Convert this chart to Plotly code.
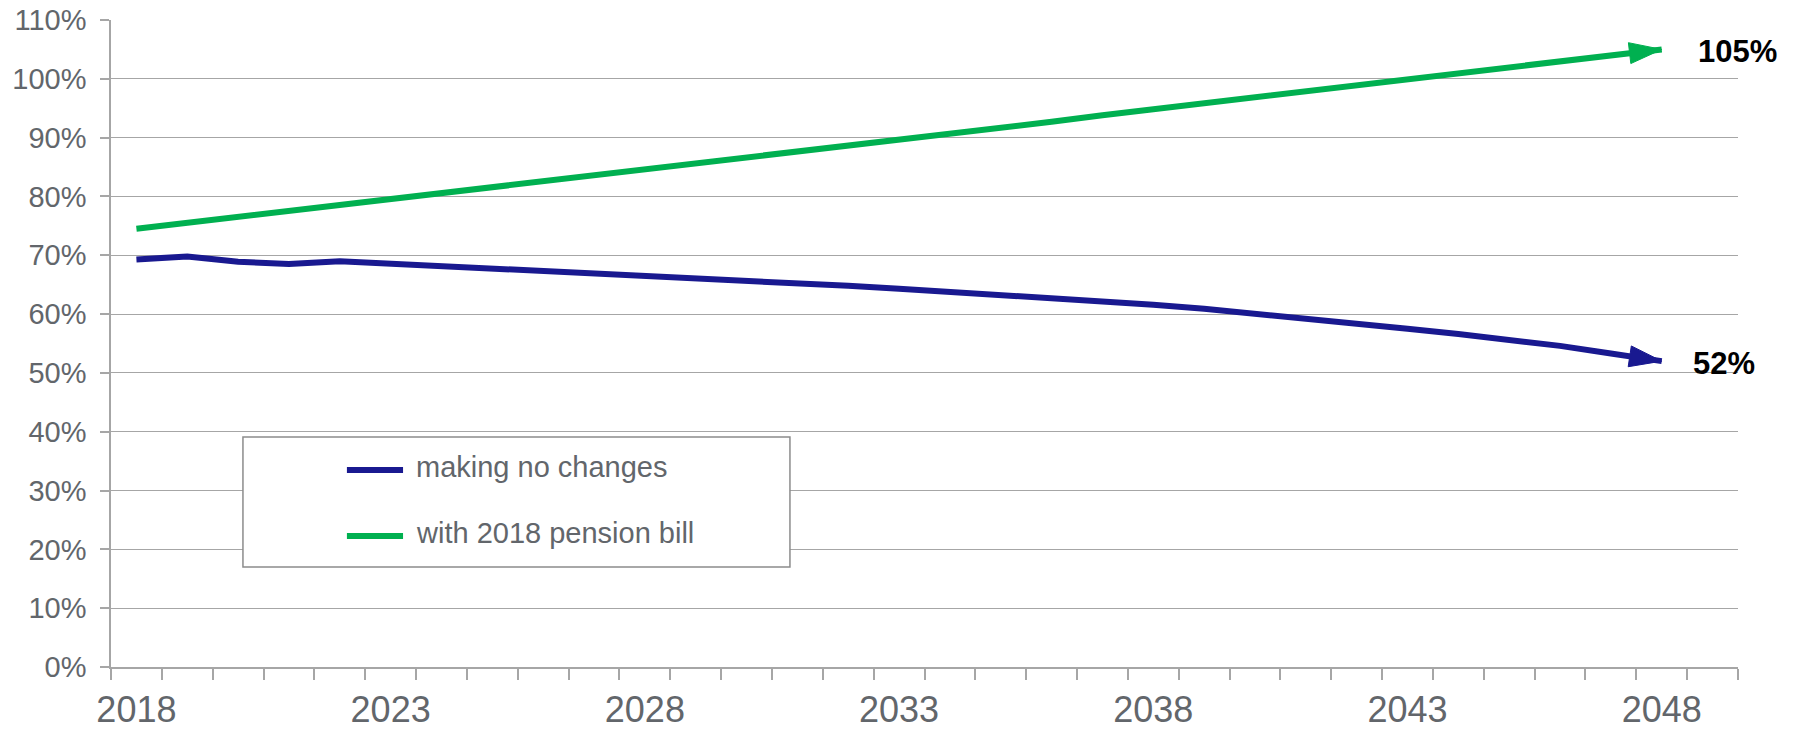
import plotly.graph_objects as go

years = list(range(2018, 2049))
no_changes = [69.3, 69.8, 68.9, 68.5, 69.0, 68.6, 68.2, 67.8, 67.4, 67.0,
              66.6, 66.2, 65.7, 65.3, 64.8, 64.3, 63.8, 63.3, 62.8, 62.2,
              61.6, 60.9, 60.1, 59.3, 58.4, 57.5, 56.6, 55.6, 54.6, 53.3, 52.0]
pension_bill = [74.5, 75.5, 76.5, 77.5, 78.5, 79.5, 80.5, 81.5, 82.5, 83.5,
                84.5, 85.5, 86.5, 87.6, 88.6, 89.6, 90.7, 91.7, 92.7, 93.8,
                94.8, 95.8, 96.9, 97.9, 98.9, 99.9, 100.9, 101.9, 102.9, 104.0, 105.0]
series_names = ["making no changes", "with 2018 pension bill"]
series_colors = ["#191990", "#00b050"]
x_tick_labels = [2018, 2023, 2028, 2033, 2038, 2043, 2048]
y_ticks = list(range(0, 111, 10))

AX = "#a6a6a6"
TXT = "#62666b"
FONT = "Liberation Sans, Arial, sans-serif"

fig = go.Figure()
for name, vals, col in zip(series_names, [no_changes, pension_bill], series_colors):
    fig.add_trace(go.Scatter(
        x=years, y=vals, name=name, mode="lines",
        line=dict(color=col, width=6),
        showlegend=False, hoverinfo="skip",
    ))
    # arrow head on the last segment
    fig.add_trace(go.Scatter(
        x=years[-2:], y=vals[-2:], mode="markers",
        marker=dict(symbol="arrow", angleref="previous", size=[0, 34], color=col,
                    opacity=1, line=dict(width=1, color=col)),
        showlegend=False, hoverinfo="skip",
    ))
    fig.add_annotation(
        x=years[-1], y=vals[-1], text=f"<b>{vals[-1]:.0f}%</b>",
        showarrow=False, xanchor="left", yanchor="middle",
        xshift=34 if vals[-1] > 80 else 29, yshift=-2,
        font=dict(family=FONT, size=31, color="#000000"),
    )

# legend box drawn by hand (matches reference padding)
fig.add_shape(type="rect", xref="paper", yref="paper",
              x0=0.0811, x1=0.4173, y0=0.1546, y1=0.3555,
              line=dict(color="#8c8c8c", width=1.5), fillcolor="white", layer="above")
for i, (name, col) in enumerate(zip(series_names, series_colors)):
    yy = [0.3045, 0.2025][i]
    fig.add_shape(type="line", xref="paper", yref="paper",
                  x0=0.1450, x1=0.1795, y0=yy, y1=yy,
                  line=dict(color=col, width=6), layer="above")
    fig.add_annotation(xref="paper", yref="paper", x=0.1862, y=yy + 0.004,
                       text=name, showarrow=False, xanchor="left", yanchor="middle",
                       font=dict(family=FONT, size=29, color=TXT))

fig.update_layout(
    width=1798, height=730,
    margin=dict(l=111, r=60, t=20, b=63, autoexpand=False),
    plot_bgcolor="white", paper_bgcolor="white",
    font=dict(family=FONT, color=TXT),
    xaxis=dict(
        range=[2017.5, 2049.5], tickmode="array", tickvals=x_tick_labels,
        ticktext=[str(v) for v in x_tick_labels],
        ticks="", showgrid=False, showline=True, linecolor=AX, linewidth=1.5,
        tickfont=dict(family=FONT, size=36, color=TXT),
        ticklabelstandoff=10, automargin=False,
        minor=dict(tickmode="linear", tick0=2017.5, dtick=1, ticks="outside",
                   ticklen=11, tickcolor=AX, tickwidth=1.5, showgrid=False),
        zeroline=False,
    ),
    yaxis=dict(
        range=[0, 110], tickmode="array", tickvals=y_ticks,
        ticktext=[f"{v}%" for v in y_ticks],
        ticks="outside", ticklen=9, tickcolor=AX, tickwidth=1.5,
        showgrid=True, gridcolor=AX, gridwidth=1.3,
        showline=True, linecolor=AX, linewidth=1.5,
        tickfont=dict(family=FONT, size=29, color=TXT),
        ticklabelstandoff=8, automargin=False,
        zeroline=False,
    ),
)

fig.write_html("out.html")
